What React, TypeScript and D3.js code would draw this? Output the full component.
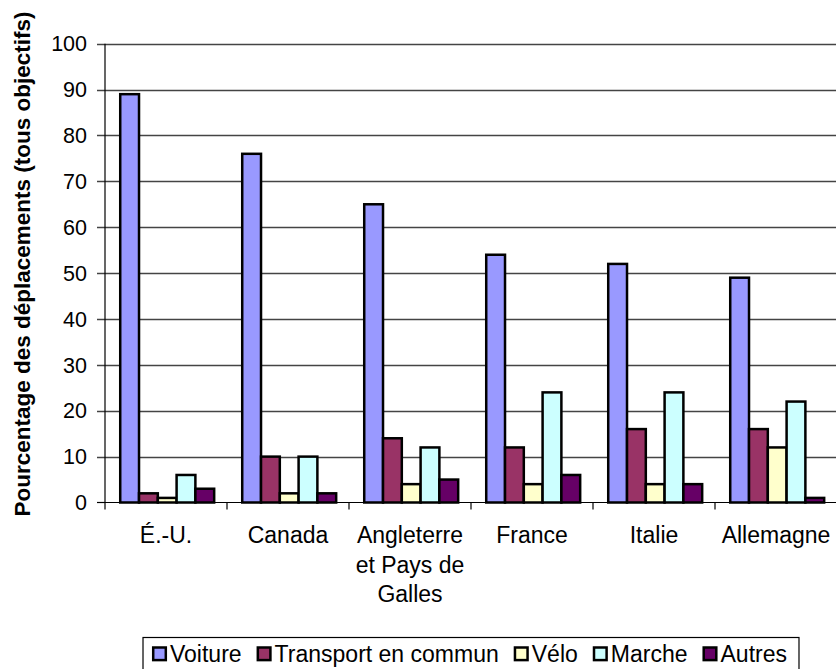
import React, { useEffect, useRef } from "react";
import * as d3 from "d3";

const categories: string[][] = [
  ["É.-U."],
  ["Canada"],
  ["Angleterre", "et Pays de", "Galles"],
  ["France"],
  ["Italie"],
  ["Allemagne"],
];
const seriesNames = ["Voiture", "Transport en commun", "Vélo", "Marche", "Autres"];
const seriesColors = ["#9999FF", "#993366", "#FFFFCC", "#CCFFFF", "#660066"];
const voiture = [89, 76, 65, 54, 52, 49];
const transport = [2, 10, 14, 12, 16, 16];
const velo = [1, 2, 4, 4, 4, 12];
const marche = [6, 10, 12, 24, 24, 22];
const autres = [3, 2, 5, 6, 4, 1];
const yTicks = [0, 10, 20, 30, 40, 50, 60, 70, 80, 90, 100];
const yTitle = "Pourcentage des déplacements (tous objectifs)";

const W = 836;
const H = 669;
const FONT = "'Liberation Sans', Arial, sans-serif";

export default function App() {
  const ref = useRef<SVGSVGElement | null>(null);

  useEffect(() => {
    const svg = d3.select(ref.current);
    svg.selectAll("*").remove();
    const values = [voiture, transport, velo, marche, autres];
    const catKeys = categories.map((c) => c.join(" "));

    const left = 105;
    const right = 837;
    const top = 43.7;
    const bottom = 502.5;

    const y = d3.scaleLinear().domain([0, 100]).range([bottom, top]);
    const x0 = d3.scaleBand<string>().domain(catKeys).range([left, right]).padding(0);
    const bw = x0.bandwidth();
    const x1 = d3
      .scaleBand<string>()
      .domain(seriesNames)
      .range([bw * 0.115, bw * 0.885])
      .padding(0);

    // gridlines
    svg
      .append("g")
      .selectAll("line")
      .data(yTicks.filter((t) => t > 0))
      .join("line")
      .attr("x1", left - 8)
      .attr("x2", W)
      .attr("y1", (d) => Math.round(y(d)) + 0.5)
      .attr("y2", (d) => Math.round(y(d)) + 0.5)
      .attr("stroke", "#444")
      .attr("stroke-width", 1.6);

    svg
      .append("line")
      .attr("x1", left - 8)
      .attr("x2", left)
      .attr("y1", y(0))
      .attr("y2", y(0))
      .attr("stroke", "#000")
      .attr("stroke-width", 1.2);

    // tick labels
    svg
      .append("g")
      .selectAll("text")
      .data(yTicks)
      .join("text")
      .attr("x", 87)
      .attr("y", (d) => y(d))
      .attr("dy", "0.36em")
      .attr("text-anchor", "end")
      .attr("font-family", FONT)
      .attr("font-size", 21.5)
      .attr("fill", "#000")
      .text((d) => String(d));

    // bars
    const g = svg.append("g");
    categories.forEach((_, ci) => {
      seriesNames.forEach((s, si) => {
        const v = values[si][ci];
        const bx = (x0(catKeys[ci]) as number) + (x1(s) as number);
        g.append("rect")
          .attr("x", bx + 1.2)
          .attr("y", y(v))
          .attr("width", x1.bandwidth())
          .attr("height", y(0) - y(v))
          .attr("fill", seriesColors[si])
          .attr("stroke", "#000")
          .attr("stroke-width", 2.5);
      });
    });

    // axes lines
    svg
      .append("line")
      .attr("x1", left)
      .attr("x2", left)
      .attr("y1", top)
      .attr("y2", bottom)
      .attr("stroke", "#000")
      .attr("stroke-width", 1.2);
    svg
      .append("line")
      .attr("x1", left)
      .attr("x2", W)
      .attr("y1", bottom)
      .attr("y2", bottom)
      .attr("stroke", "#000")
      .attr("stroke-width", 1.2);
    svg
      .append("g")
      .selectAll("line")
      .data(catKeys)
      .join("line")
      .attr("x1", (d) => x0(d) as number)
      .attr("x2", (d) => x0(d) as number)
      .attr("y1", bottom)
      .attr("y2", bottom + 7)
      .attr("stroke", "#000")
      .attr("stroke-width", 1.2);

    // category labels
    categories.forEach((lines, ci) => {
      const cx = (x0(catKeys[ci]) as number) + bw / 2;
      const t = svg
        .append("text")
        .attr("text-anchor", "middle")
        .attr("font-family", FONT)
        .attr("font-size", 23)
        .attr("fill", "#000");
      lines.forEach((ln, li) => {
        t.append("tspan")
          .attr("x", cx)
          .attr("y", 543 + li * 29.5)
          .text(ln);
      });
    });

    // y title
    svg
      .append("text")
      .attr("transform", `translate(29.5, 264) rotate(-90)`)
      .attr("text-anchor", "middle")
      .attr("font-family", FONT)
      .attr("font-size", 22.5)
      .attr("font-weight", "bold")
      .attr("fill", "#000")
      .text(yTitle);

    // legend
    const lg = svg.append("g");
    const box = lg
      .append("rect")
      .attr("fill", "#fff")
      .attr("stroke", "#000")
      .attr("stroke-width", 1.2);
    let cx = 0;
    const sq = 15;
    const items = lg.append("g");
    seriesNames.forEach((s, si) => {
      items
        .append("rect")
        .attr("x", cx + 1.2)
        .attr("y", 647.5)
        .attr("width", sq - 2.4)
        .attr("height", sq - 2.4)
        .attr("fill", seriesColors[si])
        .attr("stroke", "#000")
        .attr("stroke-width", 2.5);
      const t = items
        .append("text")
        .attr("x", cx + sq + 3)
        .attr("y", 662)
        .attr("font-family", FONT)
        .attr("font-size", 23)
        .attr("fill", "#000")
        .text(s);
      const w = (t.node() as SVGTextElement).getComputedTextLength();
      cx += sq + 3 + w + 15;
    });
    const total = cx - 15;
    const boxW = total + 21;
    const boxX = 471 - boxW / 2;
    items.attr("transform", `translate(${boxX + 9},0)`);
    box.attr("x", boxX).attr("y", 637.5).attr("width", boxW).attr("height", 45);
  }, []);

  return (
    <svg
      ref={ref}
      width={W}
      height={H}
      style={{ position: "absolute", left: 0, top: 0, background: "#fff" }}
    />
  );
}
